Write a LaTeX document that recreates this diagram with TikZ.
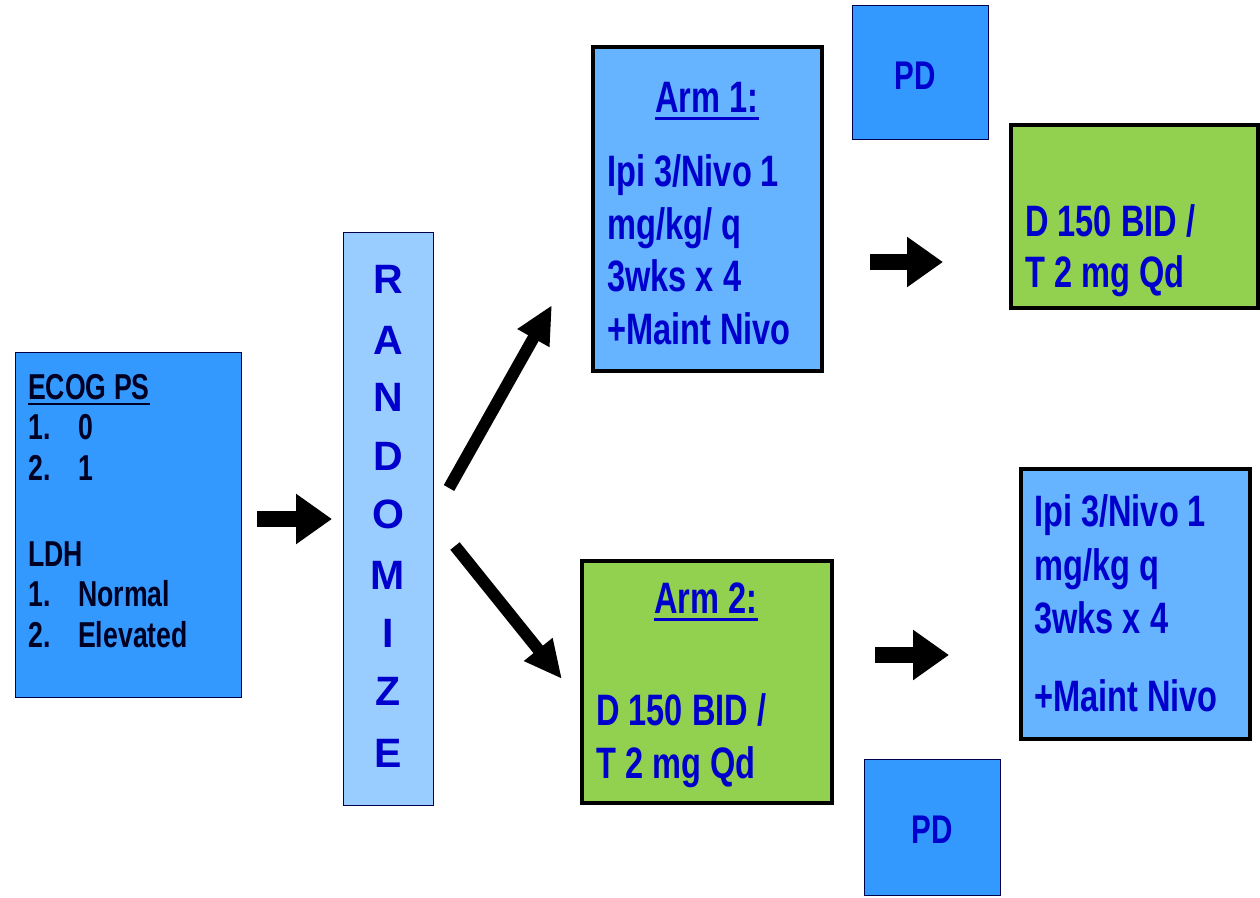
\documentclass[tikz,border=0pt]{standalone}
\usepackage{fontspec}
\setmainfont{Liberation Sans}[FakeStretch=0.74]
\newfontfamily\wide{Liberation Sans}
\usetikzlibrary{arrows.meta}
\definecolor{bright}{HTML}{3399FF}
\definecolor{mid}{HTML}{66B3FF}
\definecolor{pale}{HTML}{99CCFF}
\definecolor{grn}{HTML}{92D050}
\definecolor{tblue}{HTML}{0000CC}
\definecolor{tdark}{HTML}{000022}
\newcommand\myul[3]{\setbox0\hbox{#1}\rlap{\copy0}\rule[-#2]{\wd0}{#3}}
\tikzset{
  thinbox/.style={draw=black!70!blue, line width=1pt},
  thickbox/.style={draw=black, line width=3.5pt},
  txt/.style={anchor=base west, inner sep=0pt, font=\bfseries\fontsize{44}{44}\selectfont, text=tblue},
  etxt/.style={anchor=base west, inner sep=0pt, font=\bfseries\fontsize{36}{36}\selectfont, text=tdark},
  letter/.style={anchor=base, inner sep=0pt, font=\wide\bfseries\fontsize{41}{41}\selectfont, text=tblue},
  bigarrow/.style={line width=16pt, -{Triangle[length=36pt,width=48pt]}},
  diagarrow/.style={line width=12pt, -{Triangle[length=38pt,width=34pt]}},
}
\begin{document}
\begin{tikzpicture}[x=1pt,y=-1pt]
\useasboundingbox[fill=white] (0,0) rectangle (1260,897);
% ECOG box
\draw[thinbox, fill=bright] (15,352) rectangle (241,697);
\node[etxt] (e1) at (28,399) {\myul{ECOG PS}{6pt}{2pt}};
\node[etxt] (e2) at (28,439) {1.};
\node[etxt] (e3) at (78,439) {0};
\node[etxt] (e4) at (28,480) {2.};
\node[etxt] (e5) at (78,480) {1};
\node[etxt] (e6) at (28,566) {LDH};
\node[etxt] (e7) at (28,606) {1.};
\node[etxt] (e8) at (78,606) {Normal};
\node[etxt] (e9) at (28,647) {2.};
\node[etxt] (e10) at (78,647) {Elevated};
% Randomize
\draw[thinbox, fill=pale] (343,232) rectangle (433,805);
\foreach \l/\y [count=\i] in {R/293,A/354,N/411,D/470,O/528,M/589,I/647,Z/705,E/767}
  \node[letter] (r\i) at (388,\y) {\l};
% Arm 1
\draw[thickbox, fill=mid] (593,47) rectangle (822,371);
\node[txt, anchor=base] (a1t) at (707,112) {\myul{Arm 1:}{8pt}{3pt}};
\node[txt] (a1a) at (607,186) {Ipi 3/Nivo 1};
\node[txt] (a1b) at (607,239) {mg/kg/ q};
\node[txt] (a1c) at (607,291) {3wks x 4};
\node[txt] (a1d) at (607,344) {+Maint Nivo};
% PD top
\draw[thinbox, fill=bright] (852,5) rectangle (988,139);
\node[txt, anchor=base, font=\bfseries\fontsize{40}{40}\selectfont] (pd1) at (915,89) {PD};
% Green top
\draw[thickbox, fill=grn] (1011,125) rectangle (1258,308);
\node[txt] (g1a) at (1025,236) {D 150 BID /};
\node[txt] (g1b) at (1025,287) {T 2 mg Qd};
% Arm 2
\draw[thickbox, fill=grn] (582,561) rectangle (832,803);
\node[txt, anchor=base] (a2t) at (706,613) {\myul{Arm 2:}{8pt}{3pt}};
\node[txt] (a2a) at (596,725) {D 150 BID /};
\node[txt] (a2b) at (596,778) {T 2 mg Qd};
% PD bottom
\draw[thinbox, fill=bright] (864,759) rectangle (1000,895);
\node[txt, anchor=base, font=\bfseries\fontsize{40}{40}\selectfont] (pd2) at (932,843) {PD};
% Bottom right
\draw[thickbox, fill=mid] (1021,469) rectangle (1250,739);
\node[txt] (b1) at (1034,526) {Ipi 3/Nivo 1};
\node[txt] (b2) at (1034,580) {mg/kg q};
\node[txt] (b3) at (1034,633) {3wks x 4};
\node[txt] (b4) at (1034,711) {+Maint Nivo};
% arrows
\coordinate (l0) at (257,519);
\coordinate (l1) at (332,519);
\draw[bigarrow] (l0) -- (l1);
\coordinate (t0) at (870,262);
\coordinate (t1) at (943,262);
\draw[bigarrow] (t0) -- (t1);
\coordinate (b0) at (875,655);
\coordinate (bb1) at (949,655);
\draw[bigarrow] (b0) -- (bb1);
\coordinate (d0) at (449,488);
\coordinate (d1) at (552,305);
\draw[diagarrow] (d0) -- (d1);
\coordinate (u0) at (455,546);
\coordinate (u1) at (562,679);
\draw[diagarrow] (u0) -- (u1);
\end{tikzpicture}
\end{document}
